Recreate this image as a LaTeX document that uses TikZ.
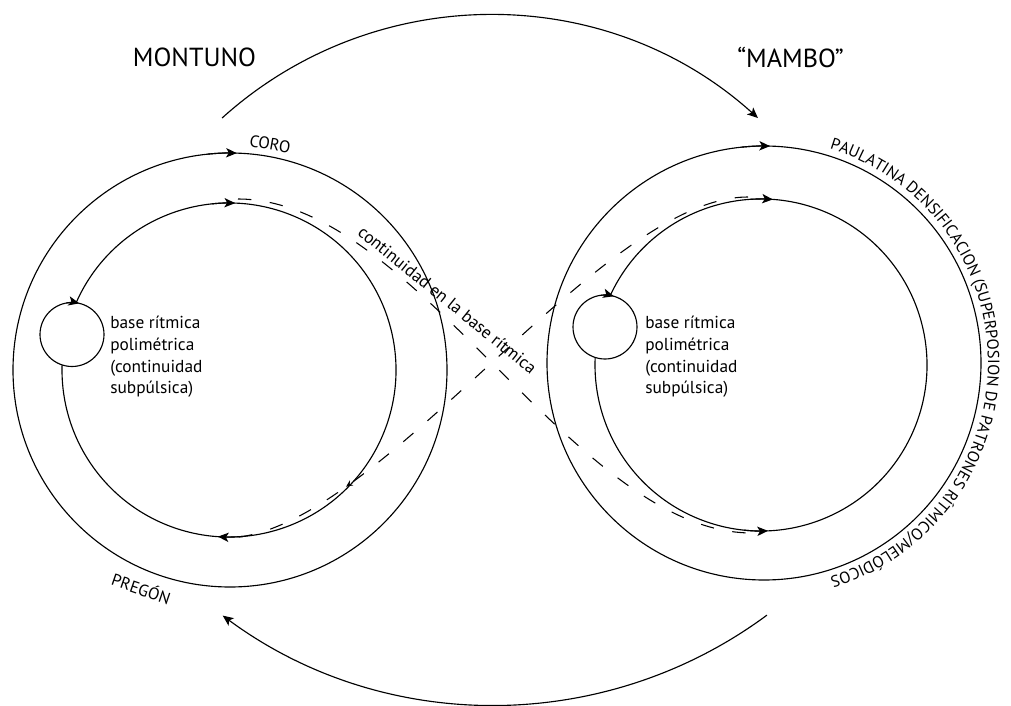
\documentclass[tikz,border=0pt]{standalone}
\usepackage{fontspec}
\setmainfont{PT Sans}
\usetikzlibrary{arrows.meta,decorations.text,decorations.markings}

\begin{document}
\begin{tikzpicture}[x=0.75pt,y=-0.75pt,
  ring/.style={line width=0.85pt},
  tip/.style={-{Stealth[length=8pt,width=7pt,inset=2pt]}, line width=0.85pt},
  flow/.style={line width=0.8pt, dash pattern=on 10pt off 14pt},
  title/.style={font=\fontsize{19.6}{23}\selectfont, inner sep=0pt},
  tag/.style={font=\fontsize{12.5}{15}\selectfont, inner sep=0pt},
  note/.style={font=\fontsize{13}{16.3}\selectfont, align=left, inner sep=0pt, anchor=north west},
]
\useasboundingbox (0,0) rectangle (1011,706);

% centres of the rings
\coordinate (Lc) at (230,370);
\coordinate (Li) at (229,370);
\coordinate (Ls) at (72,334.5);
\coordinate (Rc) at (764,363);
\coordinate (Ri) at (761,365);
\coordinate (Rs) at (605,327);
\coordinate (topc) at (490,415);
\coordinate (botc) at (494.5,247);

% MONTUNO cycle
\draw[ring] (Lc) circle[radius=217];
\draw[ring] ([shift={(Li)}]203.7:167) arc[start angle=203.7, end angle=541.8, radius=167];
\draw[ring] (Ls) circle[radius=32];
\draw[tip] ([shift={(Lc)}]-96:217) arc[start angle=-96, end angle=-88.2, radius=217];
\draw[tip] ([shift={(Li)}]-96:167) arc[start angle=-96, end angle=-87.9, radius=167];
\draw[tip] ([shift={(Ls)}]-100:32) arc[start angle=-100, end angle=-77, radius=32];
\draw[tip] ([shift={(Li)}]85:167) arc[start angle=85, end angle=93.8, radius=167];

% MAMBO cycle
\draw[ring] (Rc) circle[radius=217];
\draw[ring] ([shift={(Ri)}]204.8:166) arc[start angle=204.8, end angle=542.6, radius=166];
\draw[ring] (Rs) circle[radius=32];
\draw[tip] ([shift={(Rc)}]-96:217) arc[start angle=-96, end angle=-88.4, radius=217];
\draw[tip] ([shift={(Ri)}]-94:166) arc[start angle=-94, end angle=-85.9, radius=166];
\draw[tip] ([shift={(Rs)}]-97:32) arc[start angle=-97, end angle=-74, radius=32];
\draw[tip] ([shift={(Ri)}]96:166) arc[start angle=96, end angle=87.6, radius=166];

% transitions between the two sections
\draw[tip] ([shift={(topc)}]-132.06:400) arc[start angle=-132.06, end angle=-47.94, radius=400];
\draw[tip] ([shift={(botc)}]53.5:458) arc[start angle=53.5, end angle=126.4, radius=458];

% crossing dashed continuity lines
\draw[flow] (238,199) .. controls (416,199) and (574,533) .. (752,533);
\draw[flow, postaction={decorate},
  decoration={markings, mark=at position 0.79 with {\arrow{Stealth[length=5pt,width=4.5pt]}}}]
  (748,197) .. controls (598,197) and (375,538) .. (225,538);

% labels
\node[title] (montuno) at (194.5,57) {MONTUNO};
\node[title] (mambo) at (790.5,57) {“MAMBO”};
\node[tag, rotate=-10] (coro) at (270,144) {CORO};
\node[tag, rotate=-19] (pregon) at (141.5,588) {PREGÓN};
\node[note] (lbase) at (110,316) {base rítmica\\polimétrica\\(continuidad\\subpúlsica)};
\node[note] (rbase) at (645,316) {base rítmica\\polimétrica\\(continuidad\\subpúlsica)};
\node[font=\fontsize{13}{16}\selectfont, inner sep=0pt, rotate=-39] (cont) at (447.5,300) {continuidad en la base rítmica};

\path[decorate, decoration={text along path, text align=center,
  text={|\fontsize{12.2}{14}\selectfont|PAULATINA DENSIFICACION (SUPERPOSION DE PATRONES RÍTMICO/MELÓDICOS}}]
  ([shift={(Rc)}]-100:224) arc[start angle=-100, end angle=100, radius=224];
\end{tikzpicture}
\end{document}
